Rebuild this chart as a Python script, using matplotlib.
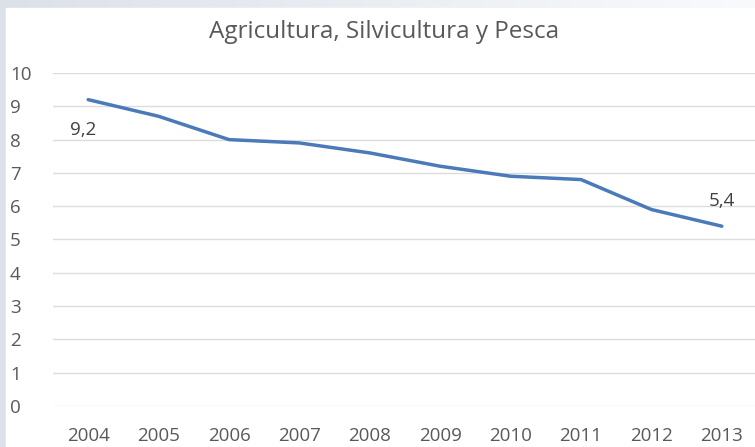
import numpy as np
import matplotlib
matplotlib.use('Agg')
import matplotlib.pyplot as plt
from matplotlib.patches import Rectangle

# datos
years = ['2004', '2005', '2006', '2007', '2008', '2009', '2010', '2011', '2012', '2013']
values = [9.2, 8.7, 8.0, 7.9, 7.6, 7.2, 6.9, 6.8, 5.9, 5.4]
title = 'Agricultura, Silvicultura y Pesca'
yticks = [0, 1, 2, 3, 4, 5, 6, 7, 8, 9, 10]

plt.rcParams['font.family'] = ['Open Sans', 'DejaVu Sans']

W, H = 755, 447
fig = plt.figure(figsize=(W / 100, H / 100), dpi=100)

# fondo (degradado gris azulado detras del panel blanco)
bg = fig.add_axes([0, 0, 1, 1])
grad = np.linspace(0, 1, 256).reshape(1, -1)
bg.imshow(grad, extent=[0, W, 0, H], aspect='auto',
          cmap=matplotlib.colors.LinearSegmentedColormap.from_list('bg', ['#dce1e9', '#f9fafc']))
bg.add_patch(Rectangle((6, 0), W - 6, H - 8, color='white', zorder=2))
bg.set_xlim(0, W)
bg.set_ylim(0, H)
bg.axis('off')

# grafico
ax = fig.add_axes([53 / W, 1 - 406 / H, (757 - 53) / W, (406 - 73) / H])
ax.patch.set_alpha(0)
x = np.arange(len(years))
ax.plot(x, values, color='#4a7ab8', lw=2.5, solid_capstyle='round', zorder=3)

ax.set_xlim(-0.5, len(years) - 0.5)
ax.set_ylim(0, 10)
ax.set_yticks(yticks)
ax.set_xticks(x)
ax.set_xticklabels(years)
ax.grid(axis='y', color='#dcdcdc', lw=1)
ax.set_axisbelow(True)
for s in ax.spines.values():
    s.set_visible(False)
ax.tick_params(length=0, labelsize=13.5, labelcolor='#595959')
ax.tick_params(axis='y', pad=31)
ax.tick_params(axis='x', pad=15)
for lab in ax.get_yticklabels():
    lab.set_horizontalalignment('left')

# etiquetas de datos
ax.annotate('9,2', (x[0], values[0]), xytext=(-4, -22), textcoords='offset points',
            ha='center', va='center', fontsize=13.5, color='#404040')
ax.annotate('5,4', (x[-1], values[-1]), xytext=(0, 18), textcoords='offset points',
            ha='center', va='center', fontsize=13.5, color='#404040')

fig.text(384 / W, 1 - 32 / H, title, ha='center', va='center', fontsize=17.5, color='#595959')

fig.savefig('out.png', dpi=100)
